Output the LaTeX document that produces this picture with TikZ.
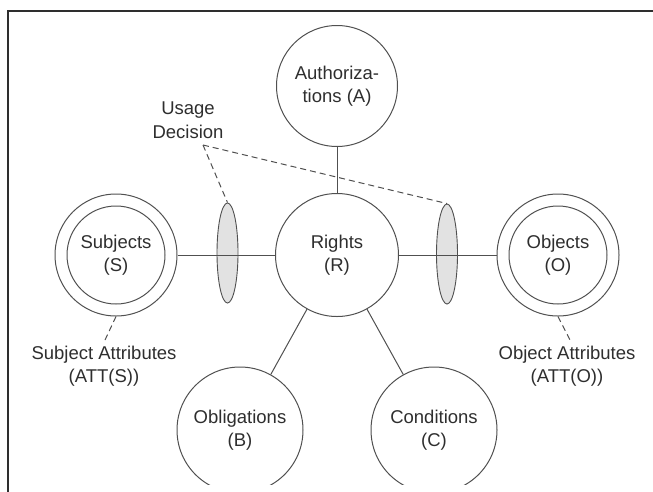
\documentclass[tikz,border=0pt]{standalone}
\usepackage{fontspec}
\setmainfont{Liberation Sans}
\usetikzlibrary{shapes.geometric}
\definecolor{ink}{HTML}{2E2E2E}
\definecolor{stroke}{HTML}{505050}
\definecolor{shade}{HTML}{E2E2E2}
\tikzset{
  x=1pt, y=-1pt,
  every node/.style={font=\fontsize{18.5}{23.5}\selectfont, text=ink, align=center},
  entity/.style={circle, draw=stroke, line width=1pt, inner sep=0pt},
  decision/.style={ellipse, draw=stroke, fill=shade, line width=0.9pt,
                   minimum width=21pt, minimum height=100pt, inner sep=0pt},
  link/.style={draw=stroke, line width=1pt},
  note/.style={draw=stroke, line width=1pt, dash pattern=on 6pt off 4pt},
}
\begin{document}
\begin{tikzpicture}
\useasboundingbox (0,0) rectangle (653,491);
% outer frame (continues past the right and lower edges)
\draw[line width=2pt, color=ink] (7.5,500) -- (7.5,10.5) -- (670,10.5);

\begin{scope}
\clip (9,12) rectangle (653,484);
% main entities
\node[entity, minimum size=121pt] (A) at (337,86) {Authoriza-\\tions (A)};
\node[entity, minimum size=123pt] (R) at (337,255) {Rights\\(R)};
\node[entity, minimum size=122pt] (S) at (116,255) {Subjects\\(S)};
\draw[link] (S.center) circle (49);
\node[entity, minimum size=122pt] (O) at (558,255) {Objects\\(O)};
\draw[link] (O.center) circle (49);
\node[entity, minimum size=126pt] (B) at (240,430) {Obligations\\(B)};
\node[entity, minimum size=126pt] (C) at (434,430) {Conditions\\(C)};

% usage decision points
\node[decision] (D1) at (227.5,253) {};
\node[decision] (D2) at (447,254) {};

% connectors
\draw[link] (A) -- (R);
\draw[link] (S) -- (R);
\draw[link] (R) -- (O);
\draw[link] (R) -- (B);
\draw[link] (R) -- (C);

% labels and their dashed leaders
\node (U) at (188,120) {Usage\\Decision};
\coordinate (ud) at (203,145);
\draw[note] (ud) -- (D1.north);
\draw[note] (ud) -- (D2.north);

\node (SA) at (104,366) {Subject Attributes\\(ATT(S))};
\node (OA) at (567,366) {Object Attributes\\(ATT(O))};
\coordinate (sa) at (105,340);
\coordinate (oa) at (570,340);
\draw[note] (S.south) -- (sa);
\draw[note] (O.south) -- (oa);
\end{scope}
\end{tikzpicture}
\end{document}
